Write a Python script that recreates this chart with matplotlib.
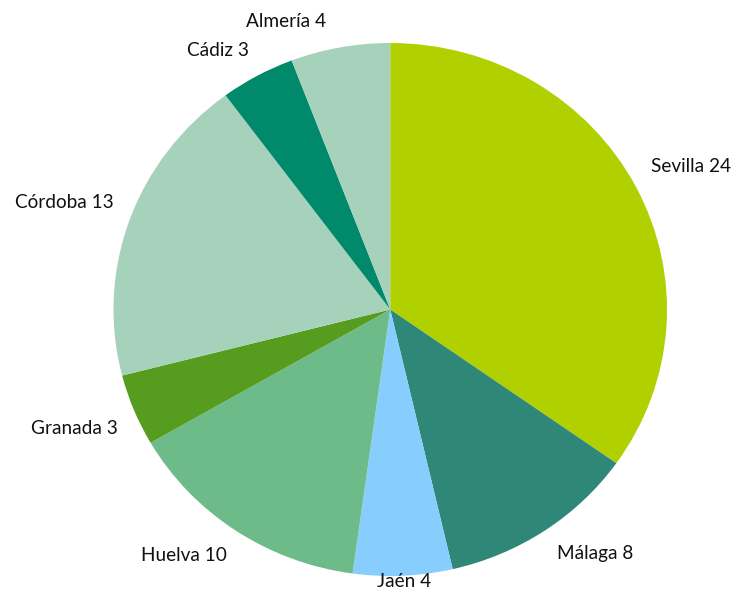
import numpy as np
import matplotlib
matplotlib.use('Agg')
import matplotlib.pyplot as plt

provincias = ['Sevilla', 'Málaga', 'Jaén', 'Huelva', 'Granada', 'Córdoba', 'Cádiz', 'Almería']
valores = [24, 8, 4, 10, 3, 13, 3, 4]
colores = ['#b0d000', '#2e8777', '#87cdfd', '#6dbb89', '#569c1e', '#a6d1bb', '#00896a', '#a6d1bb']
# label offsets from the wedge edge, in pixels
offsets = [(55, 20), (50, -23), (1, -6), (-52, -25), (-60, -18), (-65, 18), (-39, 25), (-54, 26)]

plt.rcParams['font.family'] = ['Lato', 'DejaVu Sans']

fig = plt.figure(figsize=(7.39, 5.92), dpi=100)
ax = fig.add_axes([113.5 / 739, 16 / 592, 553.5 / 739, 533 / 592])

wedges, _ = ax.pie(valores, colors=colores, startangle=90, counterclock=False,
                   wedgeprops=dict(linewidth=0))
ax.set_aspect('auto')
ax.set_xlim(-1, 1)
ax.set_ylim(-1, 1)

for w, name, v, off in zip(wedges, provincias, valores, offsets):
    ang = np.deg2rad((w.theta1 + w.theta2) / 2)
    ax.annotate('%s %d' % (name, v), xy=(np.cos(ang), np.sin(ang)),
                xytext=off, textcoords='offset pixels',
                ha='center', va='center', fontsize=13.7, color='#111111')

fig.savefig('out.png', dpi=100)
